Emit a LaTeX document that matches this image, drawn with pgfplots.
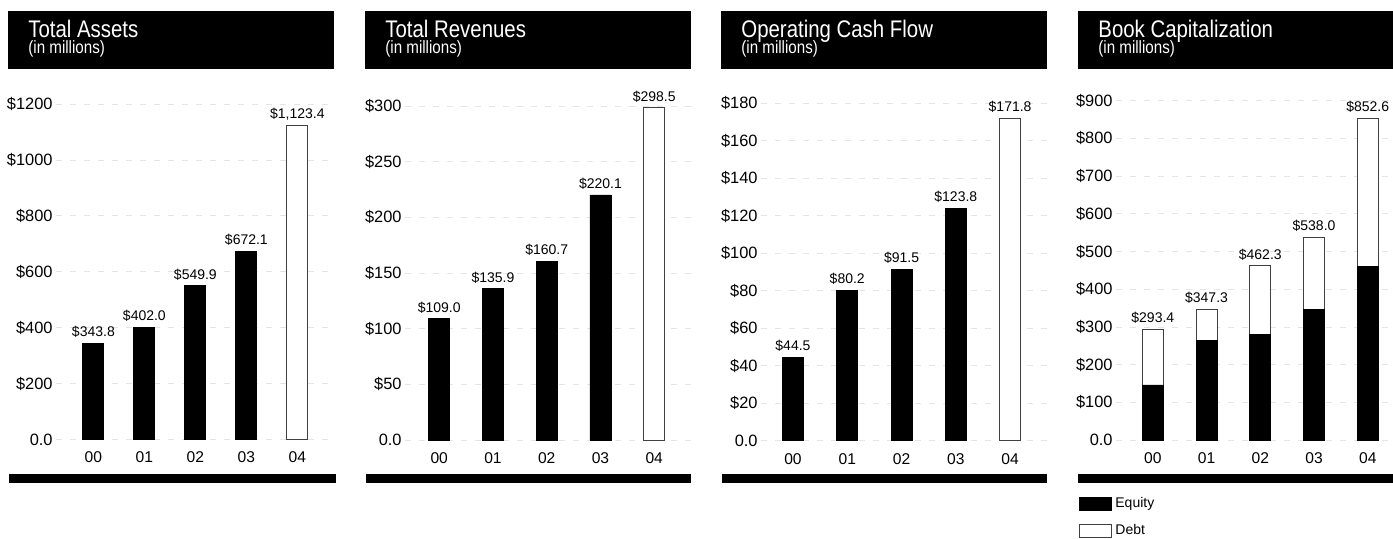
\documentclass[border=0pt]{standalone}
\usepackage{pgfplots}
\pgfplotsset{compat=1.18}
\usepackage{fontspec}
\setmainfont{Liberation Sans}
\newfontfamily\condfont{Liberation Sans}[FakeStretch=0.85]
\begin{document}
\begin{tikzpicture}
\useasboundingbox (0,0) rectangle (696.5pt,269pt);
\pgfplotsset{
  panel/.style={
    scale only axis,
    anchor=south west,
    axis line style={draw=none},
    major tick length=0pt,
    xtick={0,1,2,3,4},
    xticklabels={00,01,02,03,04},
    xticklabel style={font=\fontsize{7.8}{9}\selectfont, anchor=center, yshift=-9pt},
    yticklabel style={font=\fontsize{8.2}{10}\selectfont, anchor=east, inner sep=0pt, xshift=-1.5pt},
    ymin=0,
    ymajorgrids,
    major grid style={black!10, dash pattern=on 3pt off 4pt, line width=0.4pt},
    clip=false,
    /pgf/number format/.cd, fixed, fixed zerofill, precision=1, 1000 sep={,},
  },
  lbl/.style={
    nodes near coords={\$\pgfmathprintnumber[assume math mode=true]{\pgfplotspointmeta}},
    nodes near coords style={font=\fontsize{7}{8}\selectfont, anchor=base, inner sep=0pt, yshift=3.3pt, text=black},
  },
  blk/.style={ybar, bar width=10.5pt, bar shift=0pt, fill=black, draw=black},
  wht/.style={ybar, bar width=10.5pt, bar shift=0pt, fill=white, draw=black!75, line width=0.5pt},
}
% headers and bottom rules
\foreach \l/\r/\t in {4/167/Total Assets, 182.5/345.5/Total Revenues, 360.5/523.5/Operating Cash Flow, 539/696.5/Book Capitalization}{
  \fill[black] (\l pt,263.5pt) rectangle (\r pt,234.5pt);
  \node[anchor=base west, text=white, font=\condfont\fontsize{12}{14}\selectfont, inner sep=0pt] at (\l pt+10pt,250.5pt) {\t};
  \node[anchor=base west, text=white, font=\condfont\fontsize{8.9}{10}\selectfont, inner sep=0pt] at (\l pt+10pt,242.2pt) {(in millions)};
}
\fill[black] (4.5pt,32pt) rectangle (168pt,27.5pt);
\fill[black] (183pt,32pt) rectangle (345.5pt,27.5pt);
\fill[black] (361pt,32pt) rectangle (523.5pt,27.5pt);
\fill[black] (539pt,32pt) rectangle (696.5pt,27.5pt);

% Panel 1
\begin{axis}[panel, at={(28pt,49.25pt)}, width=139pt, height=167.75pt,
  xmin=-0.733, xmax=4.718, ymax=1200,
  ytick={0,200,400,600,800,1000,1200},
  yticklabels={0.0,\$200,\$400,\$600,\$800,\$1000,\$1200}]
\addplot[blk, lbl] coordinates {(0,343.8) (1,402.0) (2,549.9) (3,672.1)};
\addplot[wht, lbl] coordinates {(4,1123.4)};
\end{axis}

% Panel 2
\begin{axis}[panel, at={(202.5pt,49pt)}, width=143pt, height=167pt,
  xmin=-0.636, xmax=4.685, ymax=300,
  ytick={0,50,100,150,200,250,300},
  yticklabels={0.0,\$50,\$100,\$150,\$200,\$250,\$300}]
\addplot[blk, lbl] coordinates {(0,109.0) (1,135.9) (2,160.7) (3,220.1)};
\addplot[wht, lbl] coordinates {(4,298.5)};
\end{axis}

% Panel 3
\begin{axis}[panel, at={(380.5pt,48.6pt)}, width=143pt, height=168.9pt,
  xmin=-0.589, xmax=4.68, ymax=180,
  ytick={0,20,40,60,80,100,120,140,160,180},
  yticklabels={0.0,\$20,\$40,\$60,\$80,\$100,\$120,\$140,\$160,\$180}]
\addplot[blk, lbl] coordinates {(0,44.5) (1,80.2) (2,91.5) (3,123.8)};
\addplot[wht, lbl] coordinates {(4,171.8)};
\end{axis}

% Panel 4
\begin{axis}[panel, at={(558pt,49pt)}, width=138.5pt, height=169.65pt,
  xmin=-0.685, xmax=4.47, ymax=900,
  ytick={0,100,200,300,400,500,600,700,800,900},
  yticklabels={0.0,\$100,\$200,\$300,\$400,\$500,\$600,\$700,\$800,\$900},
  reverse legend,
  legend cell align=left,
  legend style={at={(-0.1336,-0.158)}, anchor=north west, draw=none, fill=none,
    inner sep=0pt, font=\fontsize{7}{8}\selectfont, row sep=4.2pt,
    nodes={inner sep=1.5pt},
    every even column/.append style={column sep=2pt}},
  legend image code/.code={\draw[#1] (0pt,-3.25pt) rectangle (16pt,3.25pt);}]
\addplot[wht, lbl] coordinates {(0,293.4) (1,347.3) (2,462.3) (3,538.0) (4,852.6)};
\addlegendentry{Debt}
\addplot[blk] coordinates {(0,146) (1,263) (2,281) (3,347) (4,461)};
\addlegendentry{Equity}
\end{axis}
\end{tikzpicture}
\end{document}
